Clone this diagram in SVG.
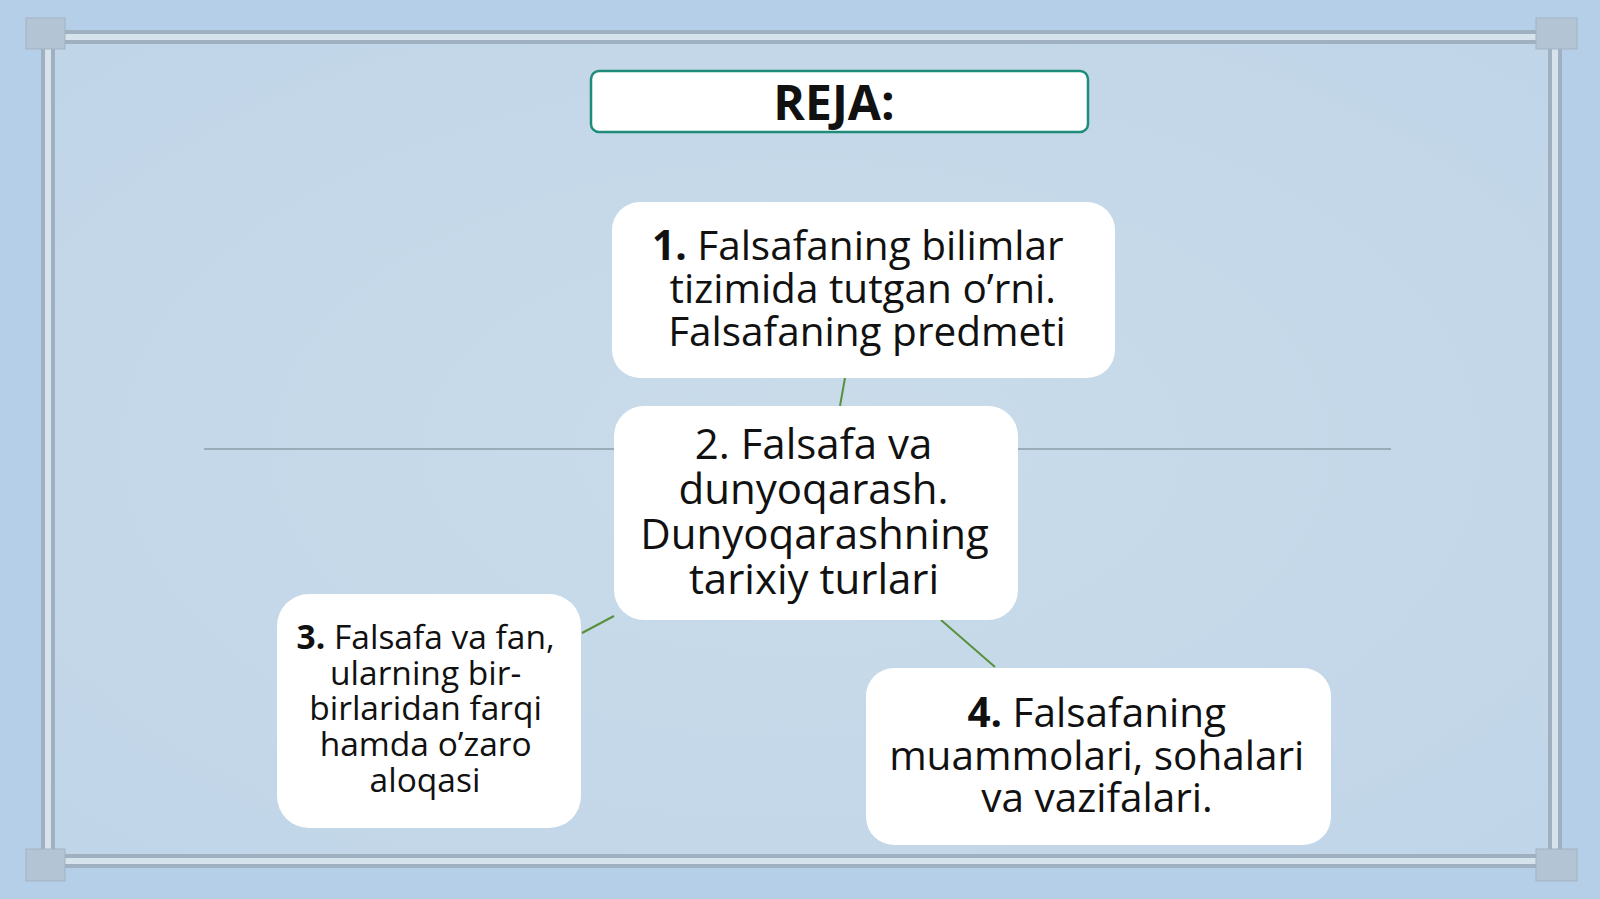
<svg xmlns="http://www.w3.org/2000/svg" width="1600" height="899" viewBox="0 0 1600 899">
  <defs>
    <radialGradient id="bg" cx="50%" cy="50%" r="70%">
      <stop offset="0" stop-color="#cadcea"/>
      <stop offset="1" stop-color="#c0d5e8"/>
    </radialGradient>
    <style>
      .frameOuter { fill: none; stroke: #9fb0c0; stroke-width: 14; }
      .frameInner { fill: none; stroke: #d6e2ec; stroke-width: 6; }
      .corner { fill: #b3c4d4; stroke: #a2b3c3; stroke-width: 1; }
      .node { fill: #ffffff; }
      .title { fill: #ffffff; stroke: #1e8c78; stroke-width: 2.5; }
      .txt { font-family: "Open Sans", "Noto Sans", sans-serif; fill: #111111; text-anchor: middle; }
      .b { font-weight: bold; }
      .conn { stroke: #5a8f3e; stroke-width: 2; fill: none; }
      .hline { stroke: #8d9ca9; stroke-width: 1.5; }
    </style>
  </defs>

  <rect x="0" y="0" width="1600" height="899" fill="#b6cfe8"/>
  <rect x="48" y="37" width="1507" height="824" fill="url(#bg)"/>

  <g id="frame">
    <rect class="frameOuter" x="48" y="37" width="1507" height="824"/>
    <rect class="frameInner" x="48" y="37" width="1507" height="824"/>
    <rect class="corner" x="26" y="18" width="39" height="31"/>
    <rect class="corner" x="1536" y="18" width="41" height="31"/>
    <rect class="corner" x="26" y="849" width="39" height="32"/>
    <rect class="corner" x="1536" y="849" width="41" height="32"/>
  </g>

  <g id="divider">
    <line class="hline" x1="204" y1="449" x2="614" y2="449"/>
    <line class="hline" x1="1018" y1="449" x2="1391" y2="449"/>
  </g>

  <g id="connectors">
    <line class="conn" x1="845" y1="378" x2="840" y2="406"/>
    <line class="conn" x1="582" y1="633" x2="614" y2="616"/>
    <line class="conn" x1="941" y1="620" x2="995" y2="667"/>
  </g>

  <g id="title">
    <rect class="title" x="591" y="71" width="497" height="61" rx="8"/>
    <text class="txt b" x="834" y="120" font-size="48">REJA:</text>
  </g>

  <g id="node1">
    <rect class="node" x="612" y="202" width="503" height="176" rx="28"/>
    <text class="txt" font-size="40.5">
      <tspan x="863" y="260"><tspan class="b">1.</tspan> Falsafaning bilimlar</tspan>
      <tspan x="868" y="303">tizimida tutgan o’rni.</tspan>
      <tspan x="867" y="346">Falsafaning predmeti</tspan>
    </text>
  </g>

  <g id="node2">
    <rect class="node" x="614" y="406" width="404" height="214" rx="30"/>
    <text class="txt" font-size="42">
      <tspan x="819" y="459">2. Falsafa va</tspan>
      <tspan x="819" y="504">dunyoqarash.</tspan>
      <tspan x="820" y="549">Dunyoqarashning</tspan>
      <tspan x="814" y="594">tarixiy turlari</tspan>
    </text>
  </g>

  <g id="node3">
    <rect class="node" x="277" y="594" width="304" height="234" rx="32"/>
    <text class="txt" font-size="33.5">
      <tspan x="430" y="649"><tspan class="b">3.</tspan> Falsafa va fan,</tspan>
      <tspan x="430" y="685">ularning bir-</tspan>
      <tspan x="430" y="720">birlaridan farqi</tspan>
      <tspan x="430" y="756">hamda o’zaro</tspan>
      <tspan x="425" y="792">aloqasi</tspan>
    </text>
  </g>

  <g id="node4">
    <rect class="node" x="866" y="668" width="465" height="177" rx="28"/>
    <text class="txt" font-size="40.5">
      <tspan x="1102" y="727"><tspan class="b">4.</tspan> Falsafaning</tspan>
      <tspan x="1102" y="770">muammolari, sohalari</tspan>
      <tspan x="1097" y="812">va vazifalari.</tspan>
    </text>
  </g>
</svg>
